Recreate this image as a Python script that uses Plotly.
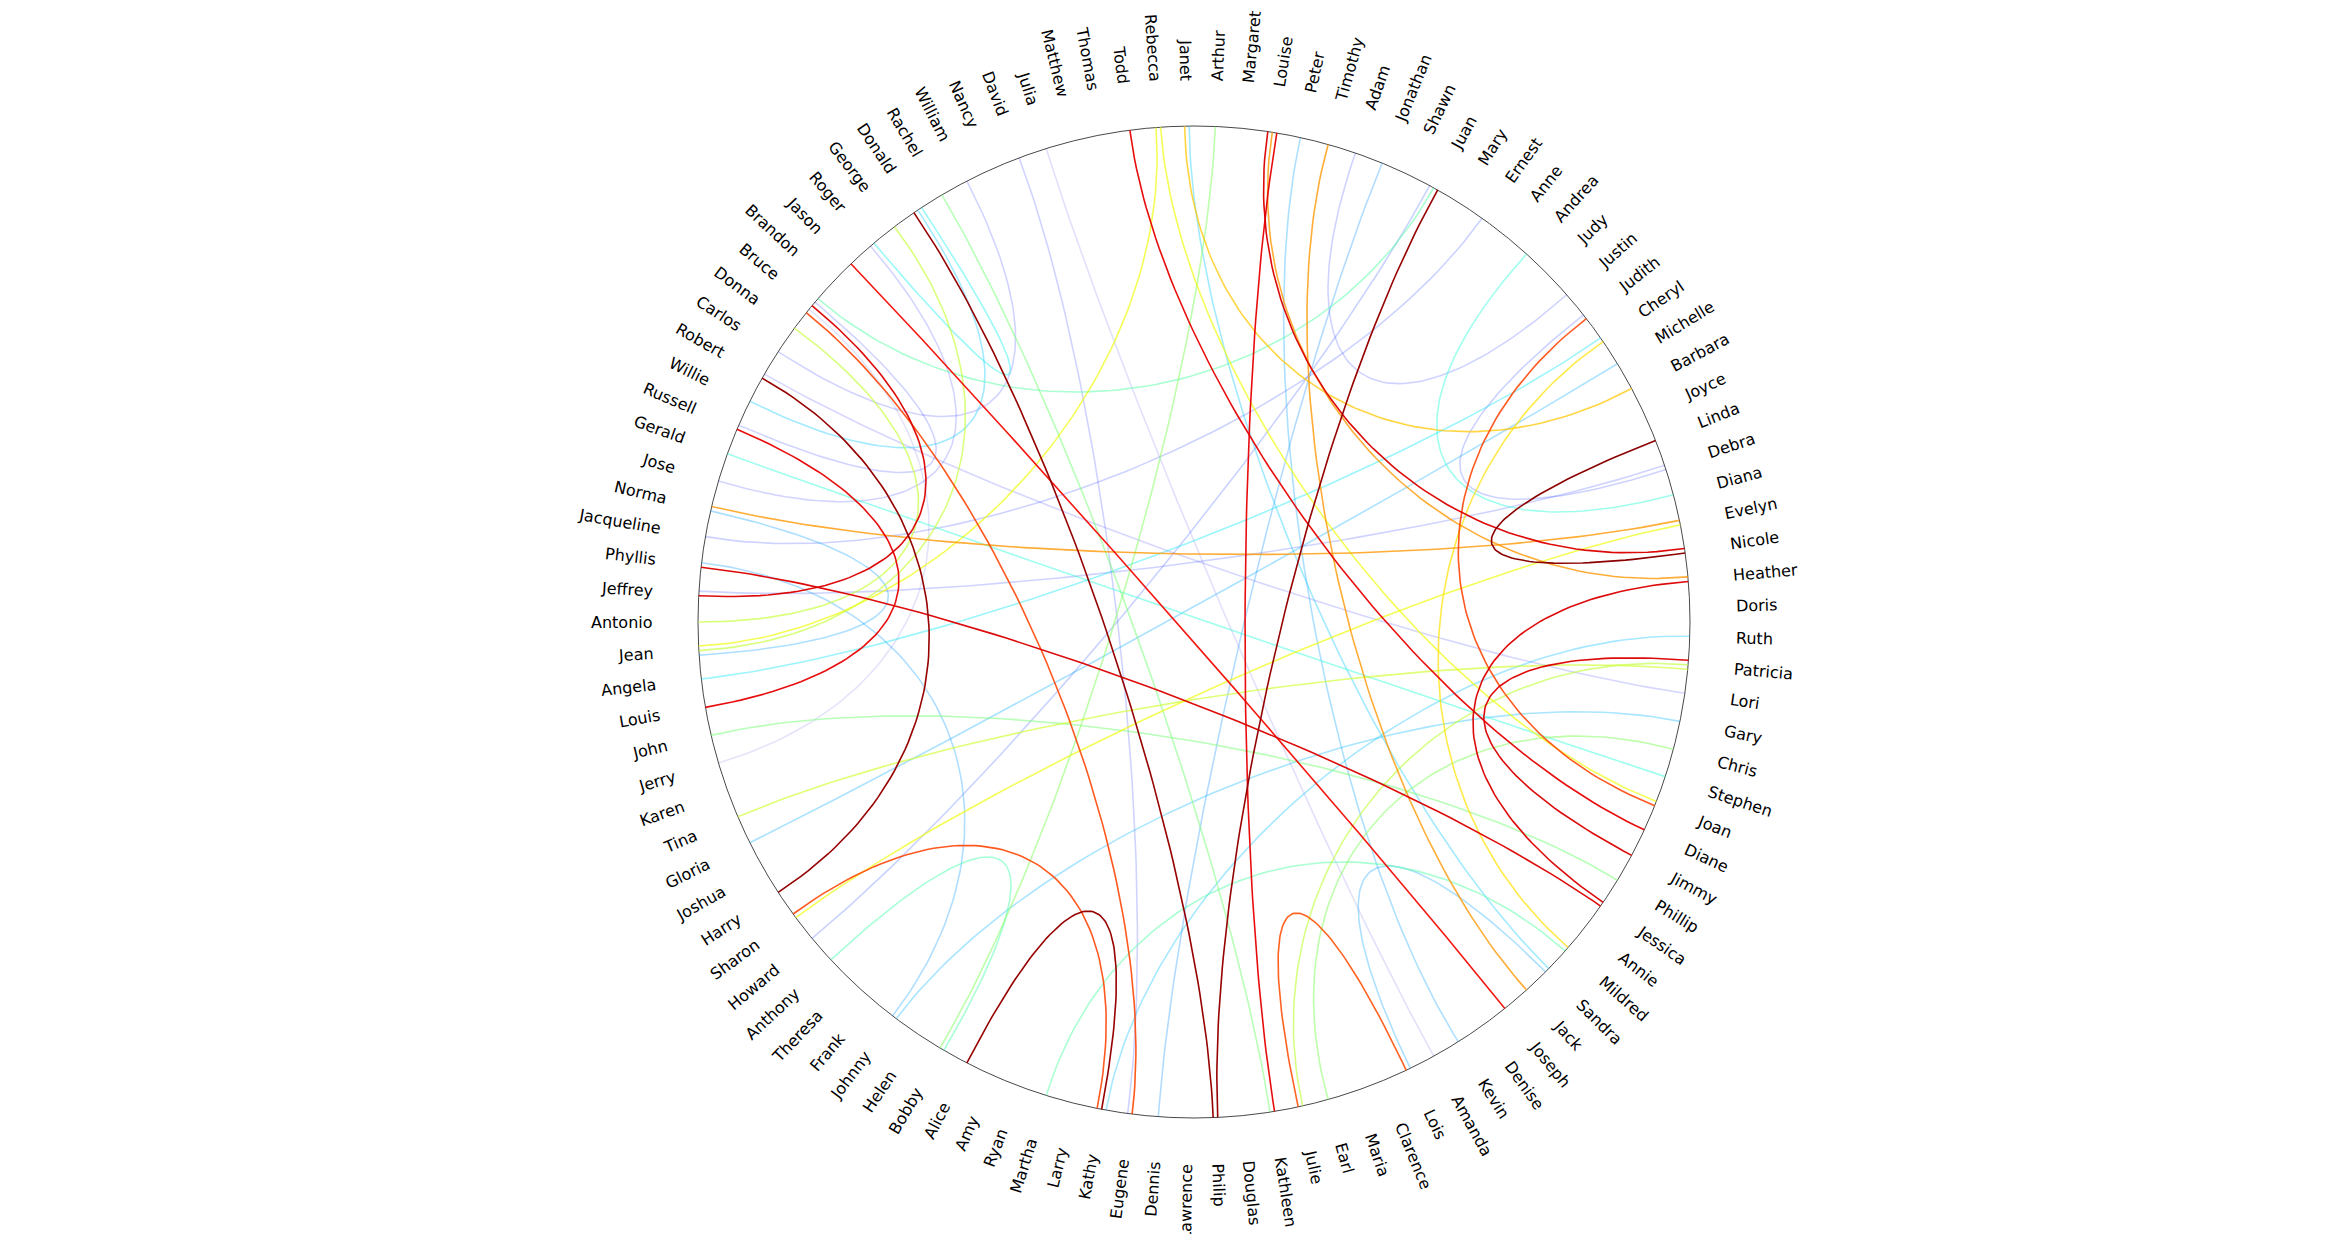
import numpy as np
from plotly import graph_objects as go

# node names, counterclockwise starting just above 3 o'clock
names = [
	"Doris", "Heather", "Nicole", "Evelyn", "Diana", "Debra", "Linda", "Joyce", "Barbara", "Michelle",
	"Cheryl", "Judith", "Justin", "Judy", "Andrea", "Anne", "Ernest", "Mary", "Juan", "Shawn",
	"Jonathan", "Adam", "Timothy", "Peter", "Louise", "Margaret", "Arthur", "Janet", "Rebecca", "Todd",
	"Thomas", "Matthew", "Julia", "David", "Nancy", "William", "Rachel", "Donald", "George", "Roger",
	"Jason", "Brandon", "Bruce", "Donna", "Carlos", "Robert", "Willie", "Russell", "Gerald", "Jose",
	"Norma", "Jacqueline", "Phyllis", "Jeffrey", "Antonio", "Jean", "Angela", "Louis", "John", "Jerry",
	"Karen", "Tina", "Gloria", "Joshua", "Harry", "Sharon", "Howard", "Anthony", "Theresa", "Frank",
	"Johnny", "Helen", "Bobby", "Alice", "Amy", "Ryan", "Martha", "Larry", "Kathy", "Eugene",
	"Dennis", "Lawrence", "Philip", "Douglas", "Kathleen", "Julie", "Earl", "Maria", "Clarence", "Lois",
	"Amanda", "Kevin", "Denise", "Joseph", "Jack", "Sandra", "Mildred", "Annie", "Jessica", "Phillip",
	"Jimmy", "Diane", "Joan", "Stephen", "Chris", "Gary", "Lori", "Patricia", "Ruth",
]

# connections: source, target, strength (0..1)
edge_src = [
	"Linda", "Juan", "Donald", "Robert", "Alice",
	"Louise", "Louise", "Heather", "Todd", "Jason", "Bruce", "Russell", "Phyllis", "Patricia",
	"Judith", "Bruce", "Sharon", "Julie",
	"Louise", "Norma", "Timothy", "Janet",
	"Sharon", "Cheryl", "Rebecca", "Jean",
	"Tina", "George", "Donna", "Julie",
	"Arthur", "Rachel", "John", "Chris",
	"Bruce", "Anthony", "Mildred",
	"Andrea", "Roger", "Stephen", "Cheryl",
	"Willie", "Peter", "Janet", "Jonathan", "Gloria", "Ruth", "Gary", "Sandra", "Norma", "Phyllis",
	"Judith", "Justin", "Debra", "Ernest", "Juan", "David", "William", "Roger", "Russell",
	"Julia", "Bruce", "Robert",
]
edge_dst = [
	"Nicole", "Philip", "Philip", "Harry", "Kathy",
	"Nicole", "Kathleen", "Jessica", "Diane", "Joseph", "Jeffrey", "Louis", "Jessica", "Jimmy",
	"Joan", "Eugene", "Kathy", "Lois",
	"Heather", "Evelyn", "Jack", "Barbara",
	"Evelyn", "Mildred", "Joan", "Rebecca",
	"Patricia", "Jean", "Antonio", "Patricia",
	"Bobby", "Kathleen", "Phillip", "Earl",
	"Juan", "Bobby", "Martha",
	"Diana", "Donald", "Gerald", "Angela",
	"Donald", "Kevin", "Sandra", "Dennis", "Michelle", "Kathy", "Johnny", "Lois", "Jean", "Johnny",
	"Debra", "Adam", "Jeffrey", "Jacqueline", "Howard", "Eugene", "Carlos", "Jose", "Bruce",
	"Amanda", "Jerry", "Lori",
]
edge_val = [
	0.99, 0.98, 0.98, 0.98, 0.98,
	0.92, 0.91, 0.92, 0.91, 0.90, 0.92, 0.91, 0.92, 0.92,
	0.84, 0.84, 0.84, 0.83,
	0.75, 0.75, 0.75, 0.70,
	0.64, 0.67, 0.64, 0.64,
	0.60, 0.59, 0.59, 0.58,
	0.52, 0.50, 0.50, 0.52,
	0.45, 0.44, 0.45,
	0.39, 0.36, 0.39, 0.35,
	0.32, 0.28, 0.32, 0.26, 0.29, 0.31, 0.30, 0.28, 0.28, 0.27,
	0.16, 0.15, 0.15, 0.16, 0.17, 0.15, 0.14, 0.13, 0.14,
	0.08, 0.07, 0.12,
]

# DejaVu Sans advance widths (units of 1/2048 em), to centre rotated labels
glyph_w = dict(zip(
	"ABCDEFGHIJKLMNOPQRSTUVWXYZabcdefghijklmnopqrstuvwxyz",
	[1401, 1405, 1430, 1577, 1294, 1178, 1587, 1540, 604, 604, 1343, 1141, 1767, 1532, 1612, 1235, 1612,
	 1423, 1300, 1251, 1499, 1401, 2025, 1403, 1251, 1403,
	 1255, 1300, 1126, 1300, 1260, 721, 1300, 1298, 569, 569, 1186, 569, 1995, 1298, 1253, 1300, 1300,
	 842, 1067, 803, 1298, 1212, 1675, 1212, 1212, 1075]
))

# matplotlib "jet" segment data
jet_r = ([0, 0.35, 0.66, 0.89, 1], [0, 0, 1, 1, 0.5])
jet_g = ([0, 0.125, 0.375, 0.64, 0.91, 1], [0, 0, 1, 1, 0, 0])
jet_b = ([0, 0.11, 0.34, 0.65, 1], [0.5, 1, 1, 0, 0])

def jet_rgba(v: float) -> str:
	r = np.interp(v, *jet_r)
	g = np.interp(v, *jet_g)
	b = np.interp(v, *jet_b)
	a = min(1.0, max(0.08, v + 0.04))
	return f"rgba({int(r * 255)},{int(g * 255)},{int(b * 255)},{a:.2f})"

N = len(names)
idx = {n: i for i, n in enumerate(names)}
node_ang = (np.arange(N) + 0.5) * 2 * np.pi / N
step = 2 * np.pi / N

# spread several line ends over the node slot, ordered by where the partner sits
ends = {}
for k, (a, b) in enumerate(zip(edge_src, edge_dst)):
	ia, ib = idx[a], idx[b]
	for me, other, side in ((ia, ib, 0), (ib, ia, 1)):
		d = (node_ang[other] - node_ang[me] + np.pi) % (2 * np.pi) - np.pi
		ends.setdefault(me, []).append((d, k, side))

end_ang = {}
for me, lst in ends.items():
	lst.sort()
	n = len(lst)
	for j, (d, k, side) in enumerate(lst):
		end_ang[(k, side)] = node_ang[me] + (j - (n - 1) / 2) * step * 0.16

fig = go.Figure()

# draw weak connections first so strong ones sit on top
order = np.argsort(edge_val, kind="stable")
t = np.linspace(0, 1, 80)
for k in order:
	a0 = end_ang[(k, 0)]
	a1 = end_ang[(k, 1)]
	A = np.array([np.cos(a0), np.sin(a0)])
	B = np.array([np.cos(a1), np.sin(a1)])
	# cubic bezier with control points half way to the centre
	ca = (1 - t) ** 3 + 1.5 * (1 - t) ** 2 * t
	cb = 1.5 * (1 - t) * t ** 2 + t ** 3
	xs = ca * A[0] + cb * B[0]
	ys = ca * A[1] + cb * B[1]
	fig.add_trace(
		go.Scatter(
			x = xs,
			y = ys,
			mode = "lines",
			line = dict(color = jet_rgba(edge_val[k]), width = 1.6),
			hoverinfo = "skip",
			showlegend = False,
		)
	)

# the outer circle
fig.add_shape(
	type = "circle",
	x0 = -1, y0 = -1, x1 = 1, y1 = 1,
	line = dict(color = "#333333", width = 0.9),
	layer = "below",
)

# node labels, rotated radially
font_px = 16
px_per_unit = 496
r_label = 1.092
for i, name in enumerate(names):
	deg = np.degrees(node_ang[i])
	w = sum(glyph_w.get(c, 1200) for c in name) / 2048 * font_px / px_per_unit
	rc = r_label + w / 2
	if deg < 90 or deg > 270:
		rot = -deg
	else:
		rot = 180 - deg
	fig.add_annotation(
		x = rc * np.cos(node_ang[i]),
		y = rc * np.sin(node_ang[i]),
		text = name,
		textangle = rot,
		showarrow = False,
		xanchor = "center",
		yanchor = "middle",
		font = dict(family = "DejaVu Sans", size = font_px, color = "black"),
	)

W, H = 2310, 1226
cx, cy = 1186, 614
fig.update_layout(
	width = W,
	height = H,
	margin = dict(l = 0, r = 0, t = 0, b = 0),
	paper_bgcolor = "white",
	plot_bgcolor = "white",
	xaxis = dict(range = [-cx / px_per_unit, (W - cx) / px_per_unit], visible = False, fixedrange = True),
	yaxis = dict(range = [-(H - cy) / px_per_unit, cy / px_per_unit], visible = False, fixedrange = True),
)

fig.write_html("out.html")
